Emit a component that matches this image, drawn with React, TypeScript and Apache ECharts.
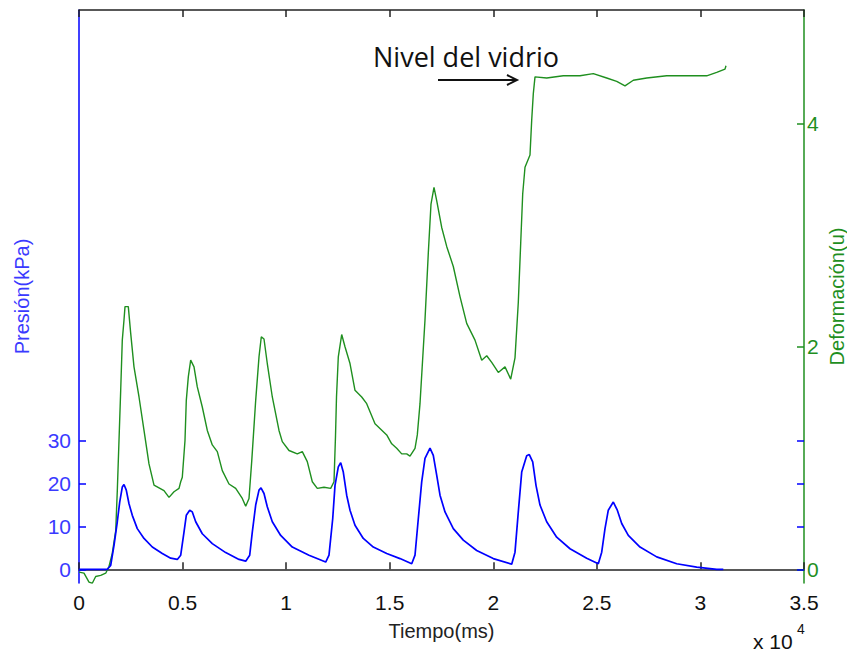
import React, { useEffect, useRef } from "react";
import * as echarts from "echarts";

// Time in ms (axis shows x 10^4)
const pressureTime = [
  0, 1366, 1530, 1690, 1849, 1965, 2090, 2172, 2283, 2414, 2573, 2814, 3138, 3539, 4021,
  4427, 4746, 4910, 5069, 5180, 5344, 5470, 5634, 5952, 6435, 7082, 7724, 8048, 8241,
  8366, 8530, 8690, 8786, 8931, 9090, 9332, 9737, 10297, 11103, 11910, 12069, 12248,
  12359, 12518, 12634, 12759, 12923, 13083, 13324, 13725, 14207, 14855, 15497, 16062,
  16221, 16380, 16544, 16703, 16945, 17104, 17268, 17428, 17669, 18070, 18552, 19199,
  20000, 20889, 21048, 21208, 21372, 21613, 21739, 21903, 22062, 22255, 22578, 23061,
  23704, 24510, 25070, 25234, 25393, 25552, 25794, 25988, 26200, 26518, 27083, 27889,
  28855, 29820, 30786, 31104,
];
const pressureKPa = [
  0, 0, 0.9, 5.6, 11.1, 15.7, 19.2, 19.8, 18.5, 15.3, 12.6, 9.5, 7.2, 5.2, 3.7,
  2.6, 2.3, 3.3, 8.7, 12.6, 13.8, 13.4, 11.1, 8.3, 6.0, 3.9, 2.3, 1.9, 3.3,
  8.7, 15.0, 18.5, 19.0, 17.7, 14.6, 11.1, 7.9, 5.2, 3.3, 1.7, 3.3, 11.8,
  19.6, 23.9, 24.9, 22.7, 17.3, 13.8, 10.3, 7.2, 5.2, 3.7, 2.5, 1.3,
  3.3, 11.8, 20.4, 25.9, 28.3, 26.6, 22.0, 17.3, 13.4, 9.5, 6.8, 4.4,
  2.5, 1.2, 4.0, 13.4, 22.7, 26.5, 26.8, 25.1, 19.6, 15.0, 11.1, 7.5,
  4.8, 2.6, 1.3, 4.0, 9.5, 13.8, 15.7, 13.8, 10.7, 7.9, 5.2, 2.9,
  1.3, 0.5, 0, 0,
];

const deformTime = [
  0, 241, 483, 642, 806, 1048, 1289, 1448, 1608, 1772, 1849, 1931, 2013, 2090, 2172,
  2221, 2380, 2496, 2655, 2897, 3138, 3379, 3621, 4103, 4345, 4586, 4828, 4910, 4987,
  5117, 5180, 5277, 5392, 5552, 5711, 5952, 6194, 6435, 6677, 6918, 7241, 7565, 7883,
  8048, 8207, 8337, 8530, 8690, 8801, 8931, 9090, 9332, 9655, 9814, 10138, 10539, 10780,
  11021, 11263, 11504, 11828, 12151, 12310, 12383, 12431, 12518, 12682, 12841, 13083,
  13324, 13648, 13889, 14290, 14855, 15096, 15337, 15579, 15820, 15979, 16221, 16332,
  16462, 16703, 16863, 16993, 17138, 17268, 17510, 17751, 18070, 18393, 18716, 19117,
  19441, 19683, 19924, 20242, 20566, 20841, 21048, 21208, 21324, 21420, 21531, 21772,
  21854, 21932, 22014, 22579, 23380, 24186, 24828, 25475, 25958, 26358, 26760, 27406,
  28372, 29337, 30303, 30786, 31186, 31234,
];
const deformU = [
  -0.02, -0.03, -0.11, -0.12, -0.06, -0.05, -0.03, 0.03, 0.15, 0.35, 0.71, 1.16, 1.61, 2.06, 2.24,
  2.36, 2.36, 2.12, 1.82, 1.55, 1.25, 0.95, 0.76, 0.71, 0.65, 0.70, 0.73, 0.79, 0.83,
  1.16, 1.52, 1.73, 1.88, 1.82, 1.64, 1.46, 1.25, 1.12, 1.06, 0.89, 0.77, 0.73, 0.64,
  0.57, 0.64, 0.97, 1.52, 1.91, 2.09, 2.07, 1.85, 1.55, 1.25, 1.15, 1.07, 1.04, 1.06,
  0.97, 0.79, 0.73, 0.74, 0.73, 0.79, 1.20, 1.55, 1.91, 2.11, 2.00, 1.85,
  1.61, 1.55, 1.49, 1.31, 1.21, 1.13, 1.09, 1.04, 1.04, 1.02, 1.09, 1.21,
  1.49, 2.24, 2.84, 3.28, 3.43, 3.31, 3.07, 2.90, 2.72, 2.45, 2.21, 2.06,
  1.88, 1.92, 1.86, 1.77, 1.82, 1.71, 1.90, 2.40, 2.93, 3.37, 3.61, 3.72,
  4.03, 4.27, 4.42, 4.41, 4.43, 4.43, 4.45, 4.41, 4.38, 4.34, 4.39, 4.41,
  4.43, 4.43, 4.43, 4.46, 4.49, 4.52,
];

const pressureTicks = [0, 10, 20, 30];
const deformTicks = [0, 2, 4];

const BLUE = "#0000ff";
const BLUE_TXT = "#3a3aff";
const GREEN = "#1f8f1f";
const FONT = "'Liberation Sans', Arial, sans-serif";

export default function App() {
  const ref = useRef<HTMLDivElement>(null);
  useEffect(() => {
    const chart = echarts.init(ref.current!, null, { renderer: "svg" });
    const pData = pressureTime.map((t, i) => [t, pressureKPa[i]]);
    const dData = deformTime.map((t, i) => [t, deformU[i]]);
    const gridBox = {
      left: 79,
      right: 43,
      top: 10,
      bottom: 70,
      containLabel: false,
      outerBoundsMode: "none",
    };
    chart.setOption({
      animation: false,
      backgroundColor: "#fff",
      textStyle: { fontFamily: FONT },
      grid: [gridBox, { ...gridBox }],
      xAxis: [
        {
          type: "value",
          gridIndex: 0,
          min: 0,
          max: 35000,
          interval: 5000,
          name: "Tiempo(ms)",
          nameLocation: "middle",
          nameGap: 38,
          nameMoveOverlap: false,
          nameTextStyle: { color: "#222", fontSize: 20, fontFamily: FONT },
          axisLine: { lineStyle: { color: "#222", width: 1.5 } },
          axisTick: { inside: true, length: 7, lineStyle: { color: "#222", width: 1.5 } },
          axisLabel: {
            color: "#111",
            fontSize: 21,
            margin: 9,
            fontFamily: FONT,
            formatter: (v: number) => String(v / 10000),
          },
          splitLine: { show: false },
        },
        {
          type: "value",
          gridIndex: 0,
          position: "top",
          min: 0,
          max: 35000,
          interval: 5000,
          axisLine: { onZero: false, lineStyle: { color: "#222", width: 1.5 } },
          axisTick: { inside: true, length: 7, lineStyle: { color: "#222", width: 1.5 } },
          axisLabel: { show: false },
          splitLine: { show: false },
        },
        {
          type: "value",
          gridIndex: 1,
          min: 0,
          max: 35000,
          show: false,
        },
      ],
      yAxis: [
        {
          type: "value",
          gridIndex: 0,
          position: "left",
          min: -3.2,
          max: 130.6,
          name: "Presión(kPa)",
          nameLocation: "middle",
          nameRotate: 90,
          nameGap: 47,
          nameMoveOverlap: false,
          nameTextStyle: { color: BLUE_TXT, fontSize: 20, fontFamily: FONT },
          axisLine: { show: true, onZero: false, lineStyle: { color: BLUE, width: 1.5 } },
          axisTick: {
            show: true,
            inside: true,
            length: 7,
            customValues: pressureTicks,
            lineStyle: { color: BLUE, width: 1.5 },
          },
          axisLabel: {
            color: BLUE_TXT,
            fontSize: 21,
            margin: 8,
            fontFamily: FONT,
            customValues: pressureTicks,
          },
          splitLine: { show: false },
        },
        {
          type: "value",
          gridIndex: 0,
          position: "right",
          min: -0.118,
          max: 5.02,
          name: "Deformación(u)",
          nameLocation: "middle",
          nameRotate: 90,
          nameGap: 23,
          nameMoveOverlap: false,
          nameTextStyle: { color: GREEN, fontSize: 20, fontFamily: FONT },
          axisLine: { show: true, onZero: false, lineStyle: { color: GREEN, width: 1.5 } },
          axisTick: {
            show: true,
            inside: true,
            length: 7,
            customValues: deformTicks,
            lineStyle: { color: GREEN, width: 1.5 },
          },
          axisLabel: {
            color: GREEN,
            fontSize: 21,
            margin: 3,
            fontFamily: FONT,
            customValues: deformTicks,
          },
          splitLine: { show: false },
        },
        {
          type: "value",
          gridIndex: 1,
          position: "right",
          min: -3.2,
          max: 130.6,
          axisLine: { show: false, onZero: false },
          axisTick: {
            show: true,
            inside: true,
            length: 7,
            customValues: pressureTicks,
            lineStyle: { color: BLUE, width: 1.5 },
          },
          axisLabel: { show: false },
          splitLine: { show: false },
        },
      ],
      series: [
        {
          type: "line",
          name: "Presión",
          xAxisIndex: 0,
          yAxisIndex: 0,
          data: pData,
          showSymbol: false,
          lineStyle: { color: BLUE, width: 1.7 },
          z: 3,
        },
        {
          type: "line",
          name: "Deformación",
          xAxisIndex: 0,
          yAxisIndex: 1,
          data: dData,
          showSymbol: false,
          lineStyle: { color: GREEN, width: 1.4 },
          z: 2,
        },
      ],
      graphic: [
        {
          type: "text",
          x: 373,
          y: 56,
          style: {
            text: "Nivel del vidrio",
            fontSize: 27,
            fontFamily: "'Open Sans', 'Noto Sans', sans-serif",
            fill: "#111",
            verticalAlign: "middle",
            align: "left",
          },
        },
        {
          type: "line",
          shape: { x1: 438, y1: 80, x2: 516, y2: 80 },
          style: { stroke: "#111", lineWidth: 2 },
        },
        {
          type: "polyline",
          shape: { points: [[507, 75], [517, 80], [507, 85]] },
          style: { stroke: "#111", lineWidth: 2, fill: "none" },
        },
        {
          type: "text",
          x: 753,
          y: 641,
          style: {
            text: "x 10",
            fontSize: 21,
            fontFamily: FONT,
            fill: "#111",
            verticalAlign: "middle",
            align: "left",
          },
        },
        {
          type: "text",
          x: 797,
          y: 629,
          style: {
            text: "4",
            fontSize: 14,
            fontFamily: FONT,
            fill: "#111",
            verticalAlign: "middle",
            align: "left",
          },
        },
      ],
    });
    return () => chart.dispose();
  }, []);
  return (
    <div
      ref={ref}
      style={{ position: "absolute", left: 0, top: 0, width: 847, height: 653, background: "#fff" }}
    />
  );
}
